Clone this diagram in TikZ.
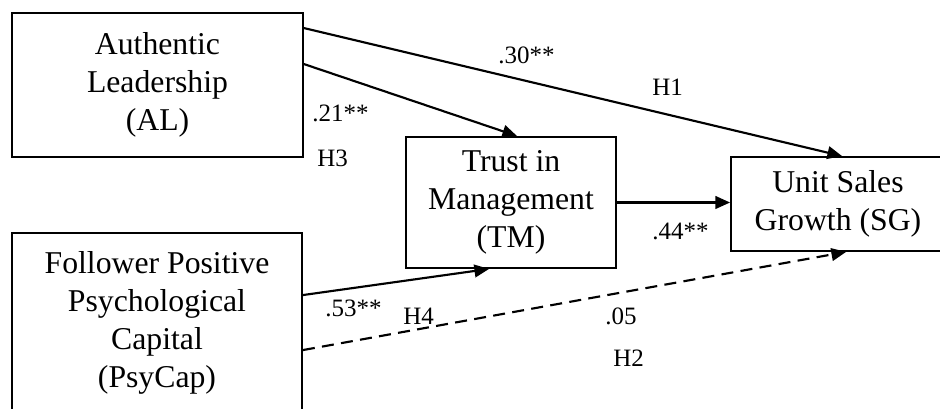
\documentclass[tikz,border=0pt]{standalone}
\usepackage{fontspec}
\setmainfont{Liberation Serif}
\usetikzlibrary{arrows.meta}

\begin{document}
\begin{tikzpicture}[x=0.75pt,y=-0.75pt,
  varbox/.style={draw, line width=1.4pt, inner sep=0pt, align=center,
    font=\fontsize{23.8pt}{28.5pt}\selectfont},
  path/.style={line width=1.6pt, -{Triangle[length=11pt,width=9.5pt]}},
  nspath/.style={path, dash pattern=on 9pt off 5.5pt},
  coef/.style={inner sep=0pt, anchor=base west, font=\fontsize{18.75pt}{22pt}\selectfont}]
  \useasboundingbox (0,0) rectangle (940,409);
  \clip (0,0) rectangle (940,409);

  % constructs
  \node[varbox, minimum width=218.25pt, minimum height=108pt] (AL) at (157.5,85)
    {Authentic\\Leadership\\(AL)};
  \node[varbox, minimum width=217.5pt, minimum height=135pt] (PC) at (157,323)
    {Follower Positive\\Psychological\\Capital\\(PsyCap)};
  \node[varbox, minimum width=157.5pt, minimum height=98.25pt] (TM) at (511,202.5)
    {Trust in\\Management\\(TM)};
  \node[varbox, minimum width=160.5pt, minimum height=70.5pt] (SG) at (838,204)
    {Unit Sales\\Growth (SG)};

  % paths
  \draw[path] ([yshift=-12pt]AL.north east) -- ([xshift=84pt]SG.north west);
  \draw[path] ([yshift=-39pt]AL.north east) -- ([xshift=84pt]TM.north west);
  \draw[path] (TM.east) -- (TM.east -| SG.west);
  \draw[path] ([yshift=-47.25pt]PC.north east) -- ([xshift=63pt]TM.south west);
  \draw[nspath] ([yshift=-88.5pt]PC.north east) -- ([xshift=87pt]SG.south west);

  % coefficients and hypotheses
  \node[coef] (c30) at (498,64) {.30**};
  \node[coef] (h1) at (652,96) {H1};
  \node[coef] (c21) at (312,122) {.21**};
  \node[coef] (h3) at (317,167) {H3};
  \node[coef] (c44) at (652,240) {.44**};
  \node[coef] (c53) at (325,317) {.53**};
  \node[coef] (h4) at (403,325) {H4};
  \node[coef] (c05) at (605,325) {.05};
  \node[coef] (h2) at (613,367) {H2};
\end{tikzpicture}
\end{document}
